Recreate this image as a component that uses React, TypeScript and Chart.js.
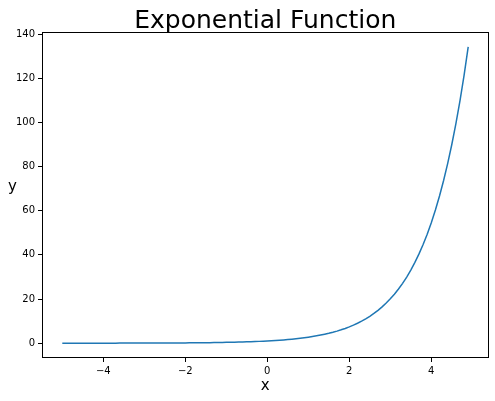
import React, { useEffect, useRef } from "react";
import { Chart, registerables } from "chart.js";

Chart.register(...registerables);

const xValues: number[] = [
  -5.0, -4.9, -4.8, -4.7, -4.6, -4.5, -4.4, -4.3, -4.2, -4.1,
  -4.0, -3.9, -3.8, -3.7, -3.6, -3.5, -3.4, -3.3, -3.2, -3.1,
  -3.0, -2.9, -2.8, -2.7, -2.6, -2.5, -2.4, -2.3, -2.2, -2.1,
  -2.0, -1.9, -1.8, -1.7, -1.6, -1.5, -1.4, -1.3, -1.2, -1.1,
  -1.0, -0.9, -0.8, -0.7, -0.6, -0.5, -0.4, -0.3, -0.2, -0.1,
  0.0, 0.1, 0.2, 0.3, 0.4, 0.5, 0.6, 0.7, 0.8, 0.9,
  1.0, 1.1, 1.2, 1.3, 1.4, 1.5, 1.6, 1.7, 1.8, 1.9,
  2.0, 2.1, 2.2, 2.3, 2.4, 2.5, 2.6, 2.7, 2.8, 2.9,
  3.0, 3.1, 3.2, 3.3, 3.4, 3.5, 3.6, 3.7, 3.8, 3.9,
  4.0, 4.1, 4.2, 4.3, 4.4, 4.5, 4.6, 4.7, 4.8, 4.9,
];

const yValues: number[] = [
  0.0067, 0.0074, 0.0082, 0.0091, 0.0101, 0.0111, 0.0123, 0.0136, 0.015, 0.0166,
  0.0183, 0.0202, 0.0224, 0.0247, 0.0273, 0.0302, 0.0334, 0.0369, 0.0408, 0.045,
  0.0498, 0.055, 0.0608, 0.0672, 0.0743, 0.0821, 0.0907, 0.1003, 0.1108, 0.1225,
  0.1353, 0.1496, 0.1653, 0.1827, 0.2019, 0.2231, 0.2466, 0.2725, 0.3012, 0.3329,
  0.3679, 0.4066, 0.4493, 0.4966, 0.5488, 0.6065, 0.6703, 0.7408, 0.8187, 0.9048,
  1.0, 1.1052, 1.2214, 1.3499, 1.4918, 1.6487, 1.8221, 2.0138, 2.2255, 2.4596,
  2.7183, 3.0042, 3.3201, 3.6693, 4.0552, 4.4817, 4.953, 5.4739, 6.0496, 6.6859,
  7.3891, 8.1662, 9.025, 9.9742, 11.0232, 12.1825, 13.4637, 14.8797, 16.4446, 18.1741,
  20.0855, 22.198, 24.5325, 27.1126, 29.9641, 33.1155, 36.5982, 40.4473, 44.7012, 49.4024,
  54.5982, 60.3403, 66.6863, 73.6998, 81.4509, 90.0171, 99.4843, 109.9472, 121.5104, 134.2898,
];

const xTicks: number[] = [-4, -2, 0, 2, 4];
const yTicks: number[] = [0, 20, 40, 60, 80, 100, 120, 140];

const titleText = "Exponential Function";
const xLabel = "x";
const yLabel = "y";

const FONT = "'DejaVu Sans', sans-serif";

const decorPlugin = {
  id: "decor",
  afterDraw(chart: any) {
    const { ctx, chartArea } = chart;
    ctx.save();
    // spines
    ctx.strokeStyle = "#000";
    ctx.lineWidth = 1;
    const l = Math.round(chartArea.left) + 0.5;
    const t = Math.round(chartArea.top) + 0.5;
    const r = Math.round(chartArea.right) - 0.5;
    const b = Math.round(chartArea.bottom) - 0.5;
    ctx.strokeRect(l, t, r - l, b - t);
    // title
    ctx.fillStyle = "#000";
    ctx.textAlign = "center";
    ctx.textBaseline = "alphabetic";
    ctx.font = `25px ${FONT}`;
    const cx = (chartArea.left + chartArea.right) / 2;
    ctx.fillText(titleText, cx, 27.5);
    // x label
    ctx.font = `15px ${FONT}`;
    ctx.fillText(xLabel, cx, 390);
    // y label
    ctx.fillText(yLabel, 12.5, 191);
    ctx.restore();
  },
};

export default function App() {
  const canvasRef = useRef<HTMLCanvasElement | null>(null);

  useEffect(() => {
    document.body.style.margin = "0";
    const canvas = canvasRef.current;
    if (!canvas) return;
    const data = xValues.map((x, i) => ({ x, y: yValues[i] }));
    const chart = new Chart(canvas, {
      type: "line",
      data: {
        datasets: [
          {
            data,
            borderColor: "#1f77b4",
            borderWidth: 1.5,
            pointRadius: 0,
            fill: false,
            tension: 0,
          },
        ],
      },
      options: {
        responsive: false,
        animation: false,
        layout: { padding: { left: 0, top: 32, right: 6.5, bottom: 0 } },
        plugins: {
          legend: { display: false },
          title: { display: false },
          tooltip: { enabled: false },
        },
        scales: {
          x: {
            type: "linear",
            min: -5.495,
            max: 5.395,
            afterBuildTicks: (scale: any) => {
              scale.ticks = xTicks.map((v) => ({ value: v }));
            },
            afterFit: (scale: any) => {
              scale.height = 43;
            },
            grid: {
              drawOnChartArea: false,
              drawTicks: true,
              tickLength: 4,
              tickColor: "#000",
              tickWidth: 1,
            },
            border: { display: false },
            ticks: {
              color: "#000",
              font: { family: FONT, size: 10 },
              padding: 3,
              maxRotation: 0,
              callback: (v: any) => (Number(v) < 0 ? "\u2212" + Math.abs(Number(v)) : String(v)),
            },
          },
          y: {
            type: "linear",
            min: -6.714,
            max: 141.0,
            afterBuildTicks: (scale: any) => {
              scale.ticks = yTicks.map((v) => ({ value: v }));
            },
            afterFit: (scale: any) => {
              scale.width = 42;
            },
            grid: {
              drawOnChartArea: false,
              drawTicks: true,
              tickLength: 4,
              tickColor: "#000",
              tickWidth: 1,
            },
            border: { display: false },
            ticks: {
              color: "#000",
              font: { family: FONT, size: 10 },
              padding: 3,
              callback: (v: any) => String(v),
            },
          },
        },
      },
      plugins: [decorPlugin],
    });
    return () => chart.destroy();
  }, []);

  return (
    <div style={{ position: "absolute", left: 0, top: 0, width: 495, height: 401, background: "#fff" }}>
      <canvas ref={canvasRef} width={495} height={401} style={{ width: 495, height: 401 }} />
    </div>
  );
}
